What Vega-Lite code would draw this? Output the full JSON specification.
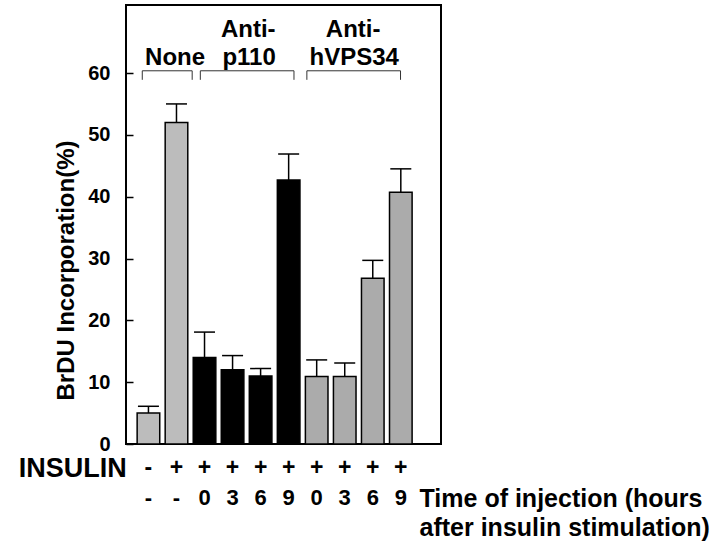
{
  "$schema": "https://vega.github.io/schema/vega-lite/v6.json",
  "width": 315,
  "height": 439,
  "autosize": "none",
  "padding": {"left": 126, "top": 5, "right": 279, "bottom": 102},
  "background": "#ffffff",
  "config": {
    "view": {"stroke": "#000000", "strokeWidth": 2},
    "font": "Liberation Sans",
    "text": {"font": "Liberation Sans", "fontWeight": "bold", "color": "#000000"}
  },
  "datasets": {
    "bars": [
      {"pos": 1, "group": "None", "insulin": "-", "time": "-", "value": 5, "upper": 6.1},
      {"pos": 2, "group": "None", "insulin": "+", "time": "-", "value": 52, "upper": 55},
      {"pos": 3, "group": "Anti-p110", "insulin": "+", "time": "0", "value": 14, "upper": 18.1},
      {"pos": 4, "group": "Anti-p110", "insulin": "+", "time": "3", "value": 12, "upper": 14.3},
      {"pos": 5, "group": "Anti-p110", "insulin": "+", "time": "6", "value": 11, "upper": 12.2},
      {"pos": 6, "group": "Anti-p110", "insulin": "+", "time": "9", "value": 42.7, "upper": 46.9},
      {"pos": 7, "group": "Anti-hVPS34", "insulin": "+", "time": "0", "value": 10.9, "upper": 13.6},
      {"pos": 8, "group": "Anti-hVPS34", "insulin": "+", "time": "3", "value": 10.9, "upper": 13.1},
      {"pos": 9, "group": "Anti-hVPS34", "insulin": "+", "time": "6", "value": 26.8, "upper": 29.7},
      {"pos": 10, "group": "Anti-hVPS34", "insulin": "+", "time": "9", "value": 40.7, "upper": 44.5}
    ],
    "brackets": [
      {"group": "None", "start": 0.78, "end": 2.56},
      {"group": "Anti-p110", "start": 2.85, "end": 6.19},
      {"group": "Anti-hVPS34", "start": 6.65, "end": 9.99}
    ],
    "grouplabels": [
      {"line": 1, "text": "Anti-", "center": 4.56},
      {"line": 1, "text": "Anti-", "center": 8.3},
      {"line": 2, "text": "None", "center": 1.95},
      {"line": 2, "text": "p110", "center": 4.59},
      {"line": 2, "text": "hVPS34", "center": 8.34}
    ],
    "notes": [
      {"row": 1, "text": "INSULIN"},
      {"row": 2, "text": "Time of injection (hours"},
      {"row": 3, "text": "after insulin stimulation)"}
    ]
  },
  "layer": [
    {
      "data": {"name": "bars"},
      "mark": {"type": "bar", "size": 22.6, "stroke": "#000000", "strokeWidth": 1.5},
      "encoding": {
        "x": {
          "field": "pos", "type": "quantitative",
          "scale": {"domain": [0.378, 11.255], "nice": false, "zero": false},
          "axis": {"labels": false, "ticks": false, "domain": false, "grid": false, "title": null}
        },
        "y": {
          "field": "value", "type": "quantitative",
          "scale": {"domain": [0, 71], "nice": false},
          "axis": {
            "values": [0, 10, 20, 30, 40, 50, 60],
            "grid": false, "domain": false,
            "tickSize": -7, "tickColor": "#000000", "tickWidth": 1.5,
            "labelPadding": 23,
            "labelFont": "Liberation Sans", "labelFontWeight": "bold", "labelFontSize": 20, "labelColor": "#000000",
            "title": "BrDU Incorporation(%)",
            "titleFont": "Liberation Sans", "titleFontWeight": "bold", "titleFontSize": 24, "titleColor": "#000000",
            "titleAngle": -90, "titleX": -60, "titleY": 265, "titleAlign": "center", "titleBaseline": "middle"
          }
        },
        "color": {
          "field": "group", "type": "nominal",
          "scale": {"domain": ["None", "Anti-p110", "Anti-hVPS34"], "range": ["#bcbcbc", "#000000", "#ababab"]},
          "legend": null
        }
      }
    },
    {
      "data": {"name": "bars"},
      "mark": {"type": "rule", "color": "#000000", "strokeWidth": 1.5},
      "encoding": {
        "x": {"field": "pos", "type": "quantitative"},
        "y": {"field": "value", "type": "quantitative"},
        "y2": {"field": "upper"}
      }
    },
    {
      "data": {"name": "bars"},
      "mark": {"type": "tick", "orient": "horizontal", "size": 21, "thickness": 1.5, "color": "#000000", "opacity": 1},
      "encoding": {
        "x": {"field": "pos", "type": "quantitative"},
        "y": {"field": "upper", "type": "quantitative"}
      }
    },
    {
      "data": {"name": "bars"},
      "mark": {"type": "text", "fontSize": 23, "baseline": "middle", "align": "center"},
      "encoding": {
        "x": {"field": "pos", "type": "quantitative"},
        "y": {"datum": -3.93, "type": "quantitative"},
        "text": {"field": "insulin"}
      }
    },
    {
      "data": {"name": "bars"},
      "mark": {"type": "text", "fontSize": 22, "baseline": "middle", "align": "center"},
      "encoding": {
        "x": {"field": "pos", "type": "quantitative"},
        "y": {"datum": -8.78, "type": "quantitative"},
        "text": {"field": "time"}
      }
    },
    {
      "data": {"name": "brackets"},
      "mark": {"type": "rule", "color": "#333333", "strokeWidth": 1},
      "encoding": {
        "x": {"field": "start", "type": "quantitative"},
        "x2": {"field": "end"},
        "y": {"datum": 60.36, "type": "quantitative"}
      }
    },
    {
      "data": {"name": "brackets"},
      "mark": {"type": "rule", "color": "#333333", "strokeWidth": 1},
      "encoding": {
        "x": {"field": "start", "type": "quantitative"},
        "y": {"datum": 60.36, "type": "quantitative"},
        "y2": {"datum": 58.9}
      }
    },
    {
      "data": {"name": "brackets"},
      "mark": {"type": "rule", "color": "#333333", "strokeWidth": 1},
      "encoding": {
        "x": {"field": "end", "type": "quantitative"},
        "y": {"datum": 60.36, "type": "quantitative"},
        "y2": {"datum": 58.9}
      }
    },
    {
      "data": {"name": "grouplabels"},
      "transform": [{"filter": "datum.line == 1"}],
      "mark": {"type": "text", "fontSize": 24, "baseline": "alphabetic", "align": "center"},
      "encoding": {
        "x": {"field": "center", "type": "quantitative"},
        "y": {"datum": 65.87, "type": "quantitative"},
        "text": {"field": "text"}
      }
    },
    {
      "data": {"name": "grouplabels"},
      "transform": [{"filter": "datum.line == 2"}],
      "mark": {"type": "text", "fontSize": 24, "baseline": "alphabetic", "align": "center"},
      "encoding": {
        "x": {"field": "center", "type": "quantitative"},
        "y": {"datum": 61.3, "type": "quantitative"},
        "text": {"field": "text"}
      }
    },
    {
      "data": {"name": "notes"},
      "transform": [{"filter": "datum.row == 1"}],
      "mark": {"type": "text", "fontSize": 27, "baseline": "middle", "align": "right"},
      "encoding": {
        "x": {"datum": 0.23, "type": "quantitative"},
        "y": {"datum": -4.1, "type": "quantitative"},
        "text": {"field": "text"}
      }
    },
    {
      "data": {"name": "notes"},
      "transform": [{"filter": "datum.row == 2"}],
      "mark": {"type": "text", "fontSize": 25, "baseline": "middle", "align": "left"},
      "encoding": {
        "x": {"datum": 10.668, "type": "quantitative"},
        "y": {"datum": -8.95, "type": "quantitative"},
        "text": {"field": "text"}
      }
    },
    {
      "data": {"name": "notes"},
      "transform": [{"filter": "datum.row == 3"}],
      "mark": {"type": "text", "fontSize": 25, "baseline": "middle", "align": "left"},
      "encoding": {
        "x": {"datum": 10.668, "type": "quantitative"},
        "y": {"datum": -13.55, "type": "quantitative"},
        "text": {"field": "text"}
      }
    }
  ]
}
